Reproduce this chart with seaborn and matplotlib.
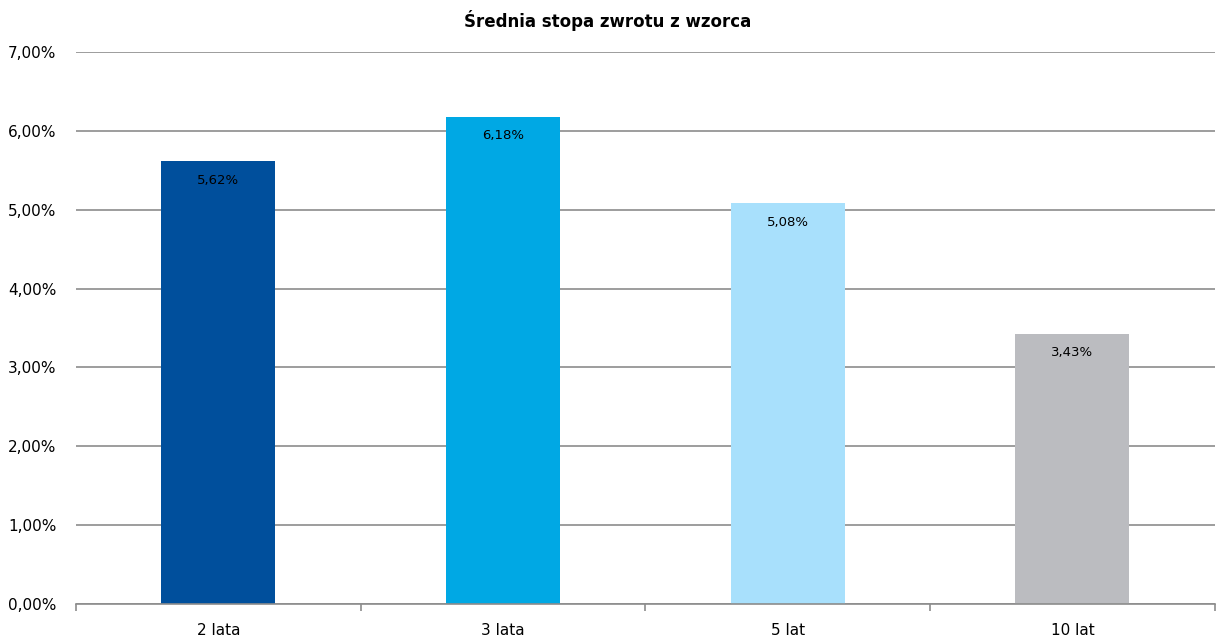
import matplotlib
matplotlib.use("Agg")
import seaborn as sns
import pandas as pd
import numpy as np
import matplotlib.pyplot as plt
from matplotlib.ticker import FixedLocator, FuncFormatter

categories = ["2 lata", "3 lata", "5 lat", "10 lat"]
values = [5.62, 6.18, 5.08, 3.43]
colors = ["#004F9C", "#00A8E4", "#A8E0FC", "#BBBCC0"]

sns.set_style("white")
plt.rcParams["font.family"] = ["DejaVu Sans"]

df = pd.DataFrame({"okres": categories, "stopa": values})

fig = plt.figure(figsize=(12.16, 6.41), dpi=100)
ax = fig.add_axes([0.0625, 0.0577, 0.9365, 0.861])

sns.barplot(data=df, x="okres", y="stopa", hue="okres", palette=colors,
            width=0.4, legend=False, saturation=1, linewidth=0, ax=ax)

ax.set_ylim(0, 7)
ax.set_xlim(-0.5, len(categories) - 0.5)
ax.set_yticks(np.arange(0, 7.01, 1))
ax.yaxis.set_major_formatter(FuncFormatter(lambda v, p: f"{v:.2f}%".replace(".", ",")))
ax.grid(axis="y", color="#8c8c8c", linewidth=1.2)
ax.set_axisbelow(True)

for s in ["top", "right", "left"]:
    ax.spines[s].set_visible(False)
ax.spines["bottom"].set_color("#8c8c8c")
ax.spines["bottom"].set_linewidth(1.2)

ax.tick_params(axis="y", length=0, labelsize=11, pad=14, labelcolor="black")
ax.xaxis.set_minor_locator(FixedLocator(np.arange(-0.5, len(categories), 1)))
ax.tick_params(axis="x", which="major", bottom=False, labelsize=11, pad=10, labelcolor="black")
ax.tick_params(axis="x", which="minor", bottom=True, length=5, color="#8c8c8c",
               width=1.2, direction="out")

ax.set_xlabel("")
ax.set_ylabel("")

for i, v in enumerate(values):
    ax.text(i, v - 0.16, f"{v:.2f}%".replace(".", ","), ha="center", va="top",
            fontsize=9.5, color="black")

fig.text(0.5, 0.968, "Średnia stopa zwrotu z wzorca", ha="center", va="center",
         fontsize=12, fontweight="bold", color="black")

fig.savefig("out.png", dpi=100)
